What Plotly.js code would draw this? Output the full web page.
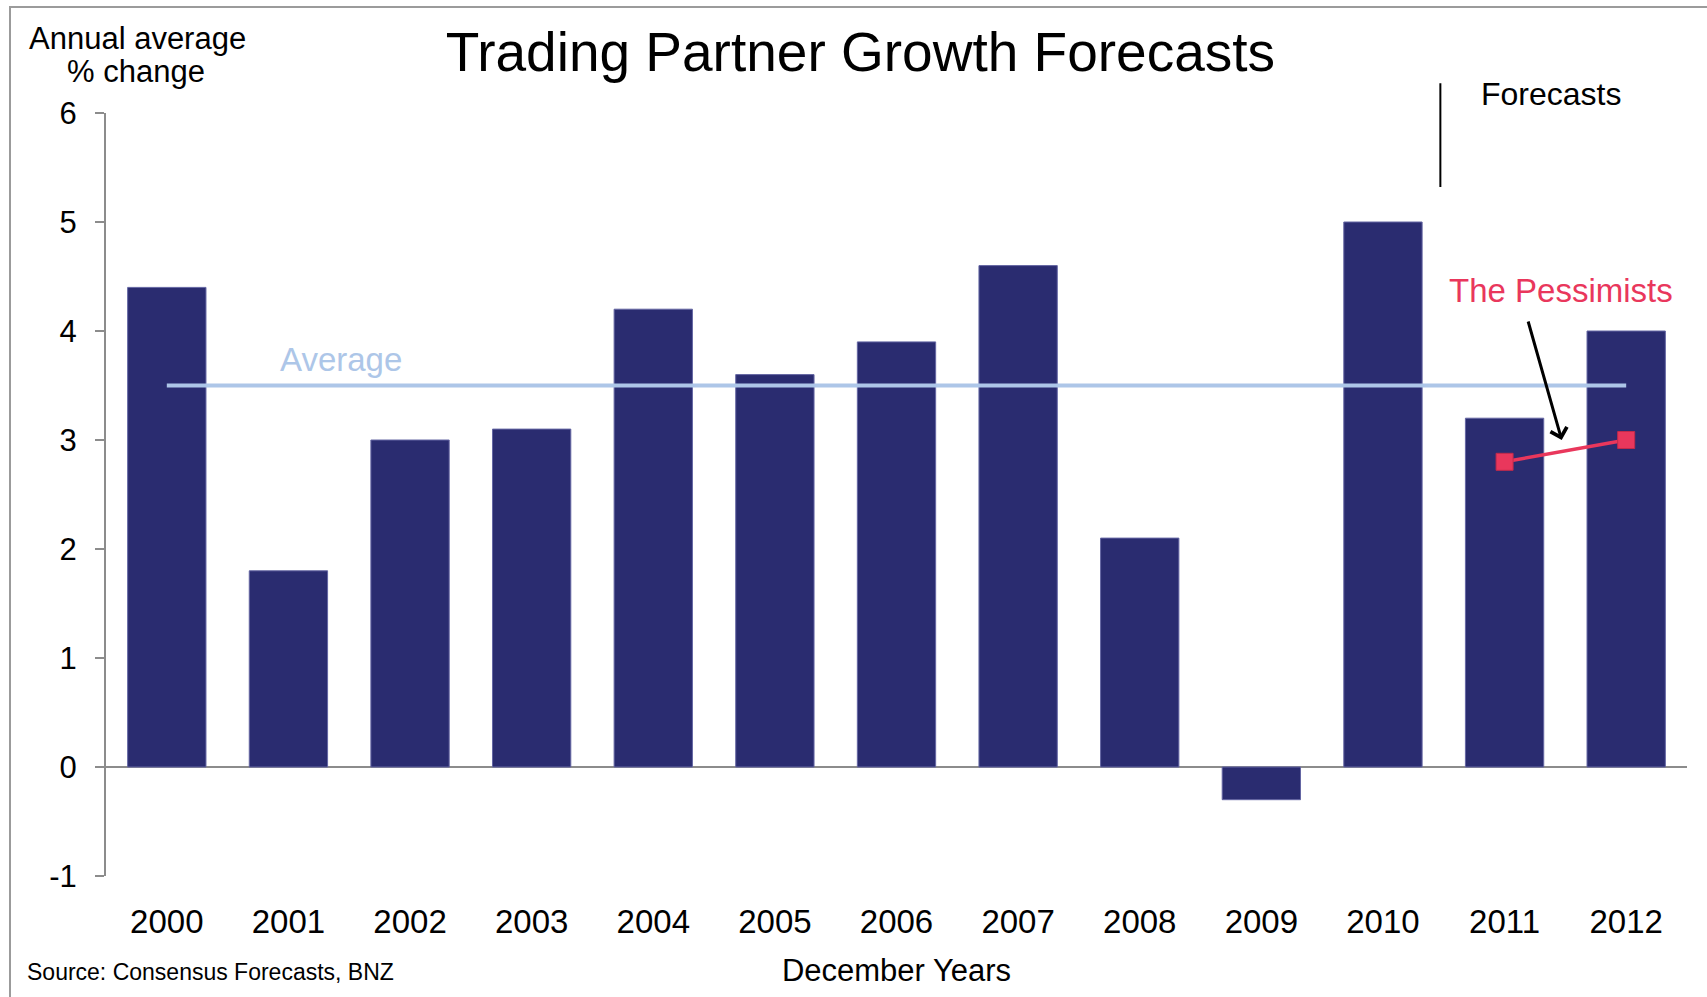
<!DOCTYPE html>
<html>
<head>
<meta charset="utf-8">
<script src="https://cdn.plot.ly/plotly-3.0.1.min.js"></script>
<style>
  html, body { margin: 0; padding: 0; background: #fff; }
  #wrap { position: relative; width: 1707px; height: 997px; }
  #chart { width: 1707px; height: 997px; }
  /* thin grey frame on the left and top edges, as in the source slide */
  #frame {
    position: absolute; left: 9px; top: 6px; right: 0; bottom: 0;
    border-left: 2px solid #9b9b9b; border-top: 2px solid #9b9b9b;
    pointer-events: none;
  }
</style>
</head>
<body>
<div id="wrap">
  <div id="chart"></div>
  <div id="frame"></div>
</div>
<script>
  const years = ["2000", "2001", "2002", "2003", "2004", "2005", "2006",
                 "2007", "2008", "2009", "2010", "2011", "2012"];
  const growth = [4.4, 1.8, 3.0, 3.1, 4.2, 3.6, 3.9, 4.6, 2.1, -0.3, 5.0, 3.2, 4.0];
  const averageLevel = [3.5, 3.5, 3.5, 3.5, 3.5, 3.5, 3.5, 3.5, 3.5, 3.5, 3.5, 3.5, 3.5];
  const pessimistYears = ["2011", "2012"];
  const pessimistValues = [2.8, 3.0];
  const yTicks = [-1, 0, 1, 2, 3, 4, 5, 6];

  const FONT = "Liberation Sans, Arial, Helvetica, sans-serif";
  const NAVY = "#2a2c70";
  const PINK = "#e9375c";
  const AVG_BLUE = "#adc6e8";
  const AXIS_GREY = "#8c8c8c";

  const bars = {
    type: "bar",
    x: years,
    y: growth,
    marker: { color: NAVY, line: { color: "#6466a3", width: 1 } },
    hoverinfo: "skip",
  };

  const average = {
    type: "scatter",
    mode: "lines",
    x: years,
    y: averageLevel,
    line: { color: AVG_BLUE, width: 4 },
    hoverinfo: "skip",
  };

  const pessimists = {
    type: "scatter",
    mode: "lines+markers",
    x: pessimistYears,
    y: pessimistValues,
    line: { color: PINK, width: 3.5 },
    marker: { symbol: "square", size: 17, color: PINK, line: { color: "#c22a4a", width: 1 } },
    hoverinfo: "skip",
  };

  const layout = {
    width: 1707,
    height: 997,
    margin: { l: 106, r: 20, t: 113, b: 121 },
    paper_bgcolor: "#fff",
    plot_bgcolor: "#fff",
    showlegend: false,
    bargap: 0.356,
    font: { family: FONT, color: "#000" },
    title: {
      text: "Trading Partner Growth Forecasts",
      font: { family: FONT, size: 55, color: "#000" },
      xref: "container", x: 0.504, xanchor: "center",
      yref: "container", y: 0.948, yanchor: "middle",
    },
    xaxis: {
      type: "category",
      range: [-0.5, years.length - 0.5],
      showgrid: false,
      showline: false,
      ticks: "",
      ticklabelstandoff: 23,
      tickfont: { family: FONT, size: 33, color: "#000" },
      zeroline: false,
      title: {
        text: "December Years",
        font: { family: FONT, size: 31, color: "#000" },
        standoff: 20,
      },
    },
    yaxis: {
      range: [-1, 6],
      tickvals: yTicks,
      ticktext: yTicks.map(String),
      showgrid: false,
      showline: true,
      linecolor: AXIS_GREY,
      linewidth: 2,
      ticks: "outside",
      ticklen: 9,
      tickwidth: 2,
      tickcolor: AXIS_GREY,
      ticklabelstandoff: 12,
      tickfont: { family: FONT, size: 31, color: "#000" },
      zeroline: true,
      zerolinecolor: AXIS_GREY,
      zerolinewidth: 2,
    },
    shapes: [
      // divider between actuals and forecasts
      { type: "line", xref: "paper", yref: "paper", x0: 0.844, x1: 0.844, y0: 0.903, y1: 1.039,
        line: { color: "#000", width: 2 } },
    ],
    annotations: [
      { text: "Annual average", xref: "paper", yref: "paper", x: 0.02, y: 1.098,
        xanchor: "center", yanchor: "middle", showarrow: false,
        font: { family: FONT, size: 31, color: "#000" } },
      { text: "% change", xref: "paper", yref: "paper", x: 0.019, y: 1.055,
        xanchor: "center", yanchor: "middle", showarrow: false,
        font: { family: FONT, size: 31, color: "#000" } },
      { text: "Forecasts", xref: "x", yref: "paper", x: 11.38, y: 1.025,
        xanchor: "center", yanchor: "middle", showarrow: false,
        font: { family: FONT, size: 32, color: "#000" } },
      { text: "Average", xref: "x", yref: "y", x: 1.43, y: 3.74,
        xanchor: "center", yanchor: "middle", showarrow: false,
        font: { family: FONT, size: 33, color: AVG_BLUE } },
      { text: "The Pessimists", xref: "x", yref: "y", x: 11.46, y: 4.37,
        xanchor: "center", yanchor: "middle", showarrow: false,
        font: { family: FONT, size: 33, color: PINK } },
      { text: "", xref: "x", yref: "y", x: 11.47, y: 3.0, ax: -34, ay: -120,
        showarrow: true, arrowhead: 4, arrowsize: 1.1, arrowwidth: 3, arrowcolor: "#000" },
      { text: "Source: Consensus Forecasts, BNZ", xref: "paper", yref: "paper", x: -0.051, y: -0.126,
        xanchor: "left", yanchor: "middle", showarrow: false,
        font: { family: FONT, size: 23, color: "#000" } },
    ],
  };

  Plotly.newPlot("chart", [bars, average, pessimists], layout, { displayModeBar: false, staticPlot: true });
</script>
</body>
</html>
